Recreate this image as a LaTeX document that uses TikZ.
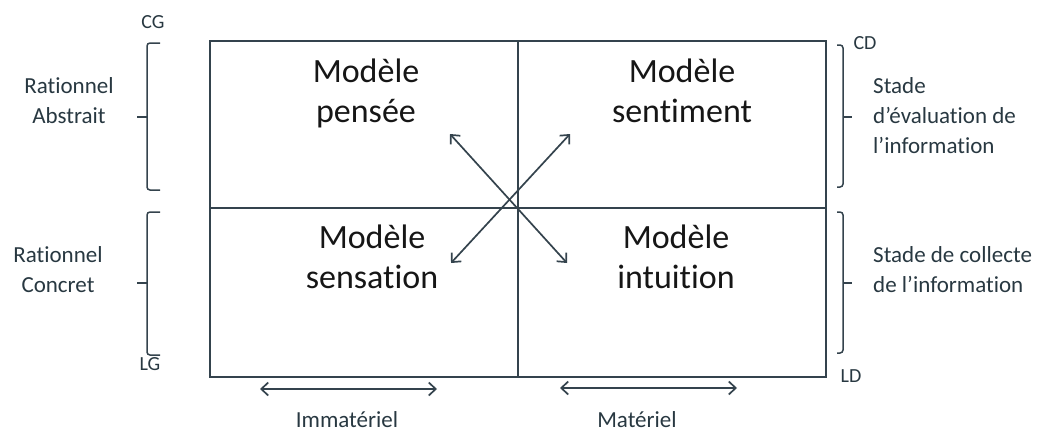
\documentclass[tikz,border=0pt]{standalone}
\usepackage{fontspec}
\setmainfont{Carlito}[RawFeature={-liga;-clig;-calt;-dlig}]
\usetikzlibrary{arrows.meta}
\definecolor{frameink}{HTML}{34434D}
\definecolor{labelink}{HTML}{283841}
\definecolor{titleink}{HTML}{161616}
\begin{document}
\begin{tikzpicture}[x=1pt, y=-1pt,
  title/.style={font=\fontsize{34}{40}\selectfont, text=titleink, align=center, inner sep=0pt, anchor=base},
  side/.style={font=\fontsize{23}{30}\selectfont, text=labelink, inner sep=0pt, anchor=base},
  corner/.style={font=\fontsize{20}{24}\selectfont, text=labelink, inner sep=0pt},
  twoway/.style={{Straight Barb[length=7pt,width=13pt]}-{Straight Barb[length=7pt,width=13pt]}, line width=1.7pt, draw=frameink},
  bracket/.style={draw=frameink, line width=1.5pt, rounded corners=3pt}]
  \useasboundingbox (0,0) rectangle (1039,437);
  % Frame and quadrants
  \draw[frameink, line width=2.2pt] (210,41) rectangle (826,377);
  \draw[frameink, line width=2.2pt] (518,41) -- (518,377);
  \draw[frameink, line width=2.2pt] (210,208) -- (826,208);
  % Quadrant titles (base = last line)
  \node[title] (pensee)    at (366,122) {Modèle\\pensée};
  \node[title] (sentiment) at (682,122) {Modèle\\sentiment};
  \node[title] (sensation) at (372,288) {Modèle\\sensation};
  \node[title] (intuition) at (676,288) {Modèle\\intuition};
  % Crossing arrows
  \coordinate (ul) at (450,134);
  \coordinate (ur) at (570,134);
  \coordinate (ll) at (451,263);
  \coordinate (lr) at (567,263);
  \draw[twoway] (ul) -- (lr);
  \draw[twoway] (ur) -- (ll);
  % Brackets, left and right
  \foreach \ya/\ym/\yb in {43/117/190, 212/283/355} {
    \draw[bracket] (160,\ya) -- (147,\ya) -- (147,\yb) -- (160,\yb);
    \draw[frameink, line width=1.5pt] (147,\ym) -- (137,\ym);
  }
  \foreach \ya/\ym/\yb in {45/117/187, 212/283/353} {
    \draw[bracket] (837,\ya) -- (843,\ya) -- (843,\yb) -- (837,\yb);
    \draw[frameink, line width=1.5pt] (843,\ym) -- (852,\ym);
  }
  % Corner labels
  \node[corner] (cg) at (153,22)  {CG};
  \node[corner] (lg) at (150,364) {LG};
  \node[corner] (cd) at (865,43)  {CD};
  \node[corner] (ld) at (851,376) {LD};
  % Side labels
  \node[side, align=center] (abstrait) at (69,123)  {Rationnel\\Abstrait};
  \node[side, align=center] (concret)  at (58,292) {Rationnel\\Concret};
  \node[side, align=left, anchor=base west] (evaluation) at (873,153)  {Stade\\d’évaluation de\\l’information};
  \node[side, align=left, anchor=base west] (collecte)   at (873,292) {Stade de collecte\\de l’information};
  % Bottom axis
  \coordinate (imm-l) at (260,389);
  \coordinate (imm-r) at (437,389);
  \coordinate (mat-l) at (560,388);
  \coordinate (mat-r) at (737,388);
  \draw[twoway] (imm-l) -- (imm-r);
  \draw[twoway] (mat-l) -- (mat-r);
  \node[side] (immateriel) at (347,427) {Immatériel};
  \node[side] (materiel)   at (637,427) {Matériel};
\end{tikzpicture}
\end{document}
